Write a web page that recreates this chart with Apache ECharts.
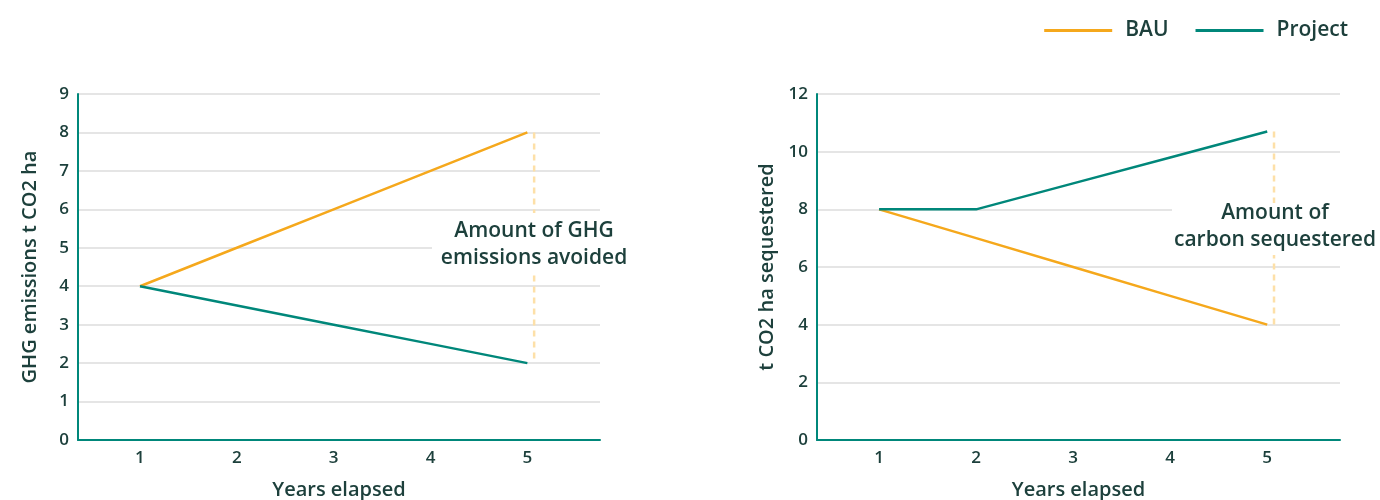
<!DOCTYPE html>
<html><head><meta charset="utf-8">
<script src="https://cdn.jsdelivr.net/npm/echarts@6/dist/echarts.min.js"></script>
<style>html,body{margin:0;padding:0;background:#fff}#c{width:1380px;height:500px}</style>
</head><body><div id="c"></div>
<script>
const years = [1, 2, 3, 4, 5];
const leftBAU = [4, 5, 6, 7, 8];
const leftProject = [4, 3.5, 3, 2.5, 2];
const rightBAU = [8, 7, 6, 5, 4];
const rightProject = [8, 8, 8.9, 9.8, 10.7];
const leftTicks = [0,1,2,3,4,5,6,7,8,9];
const rightTicks = [0,2,4,6,8,10,12];
const xName = 'Years elapsed';
const leftYName = 'GHG emissions t CO2 ha';
const rightYName = 't CO2 ha sequestered';
const leftNote = 'Amount of GHG\nemissions avoided';
const rightNote = 'Amount of\ncarbon sequestered';

const ORANGE = '#f5a81c', TEAL = '#00877a', TXT = '#1d403c', GAP = '#fde0a8';
const FONT = "'Open Sans', sans-serif";
const pairs = (xs, ys) => xs.map((x, i) => [x, ys[i]]);
const last = a => a[a.length - 1];

function xAxis(idx) {
  return {
    type: 'value', gridIndex: idx, min: 0.36, max: 5.75,
    name: xName, nameLocation: 'middle', nameGap: 40,
    nameTextStyle: {color: TXT, fontSize: 20, fontWeight: 600, fontFamily: FONT},
    axisLine: {show: true, lineStyle: {color: TEAL, width: 2}},
    axisTick: {show: false},
    splitLine: {show: false},
    axisLabel: {customValues: years, color: TXT, fontSize: 17, fontWeight: 600, fontFamily: FONT, margin: 10}
  };
}
function yAxis(idx, ticks, name, gapN) {
  return {
    type: 'value', gridIndex: idx, min: ticks[0], max: last(ticks), interval: ticks[1] - ticks[0],
    name: name, nameLocation: 'middle', nameGap: gapN,
    nameTextStyle: {color: TXT, fontSize: 20, fontWeight: 600, fontFamily: FONT},
    axisLine: {show: true, lineStyle: {color: TEAL, width: 2}},
    axisTick: {show: false},
    splitLine: {show: true, lineStyle: {color: '#dcdcdc', width: 1.5}},
    axisLabel: {color: TXT, fontSize: 17, fontWeight: 600, fontFamily: FONT, margin: 9}
  };
}
function line(name, color, idx, data) {
  return {name, type: 'line', xAxisIndex: idx, yAxisIndex: idx, data, symbol: 'none',
    lineStyle: {color, width: 2.5}, itemStyle: {color}, z: 3};
}
function gap(idx, xs, a, b) {
  const x = last(xs) + 0.07;
  return {type: 'line', xAxisIndex: idx, yAxisIndex: idx, data: [[x, last(a)], [x, last(b)]],
    symbol: 'none', lineStyle: {color: GAP, width: 2.5, type: [6, 5]}, z: 2, silent: true};
}

const chart = echarts.init(document.getElementById('c'));
chart.setOption({
  animation: false,
  legend: {
    right: 27, top: 15, itemWidth: 68, itemHeight: 3, itemGap: 27,
    data: [{name: 'BAU', icon: 'rect'}, {name: 'Project', icon: 'rect'}],
    textStyle: {color: TXT, fontSize: 21, fontWeight: 600, fontFamily: FONT, padding: [0, 0, 0, 8]}
  },
  grid: [
    {left: 78, top: 94, width: 522, height: 346, outerBoundsMode: 'none', containLabel: false},
    {left: 817, top: 94, width: 523, height: 346, outerBoundsMode: 'none', containLabel: false}
  ],
  xAxis: [xAxis(0), xAxis(1)],
  yAxis: [yAxis(0, leftTicks, leftYName, 38), yAxis(1, rightTicks, rightYName, 40)],
  series: [
    gap(0, years, leftBAU, leftProject),
    gap(1, years, rightProject, rightBAU),
    line('BAU', ORANGE, 0, pairs(years, leftBAU)),
    line('Project', TEAL, 0, pairs(years, leftProject)),
    line('BAU', ORANGE, 1, pairs(years, rightBAU)),
    line('Project', TEAL, 1, pairs(years, rightProject))
  ],
  graphic: [
    {type: 'rect', z: 100, shape: {x: 432, y: 213, width: 210, height: 60}, style: {fill: '#fff'}},
    {type: 'text', z: 101, x: 534, y: 245, style: {text: leftNote, fill: TXT, font: "600 21px 'Open Sans', sans-serif",
      align: 'center', verticalAlign: 'middle', lineHeight: 27}},
    {type: 'rect', z: 100, shape: {x: 1172, y: 203, width: 208, height: 52}, style: {fill: '#fff'}},
    {type: 'text', z: 101, x: 1275, y: 227, style: {text: rightNote, fill: TXT, font: "600 21px 'Open Sans', sans-serif",
      align: 'center', verticalAlign: 'middle', lineHeight: 27}}
  ]
});
</script></body></html>
